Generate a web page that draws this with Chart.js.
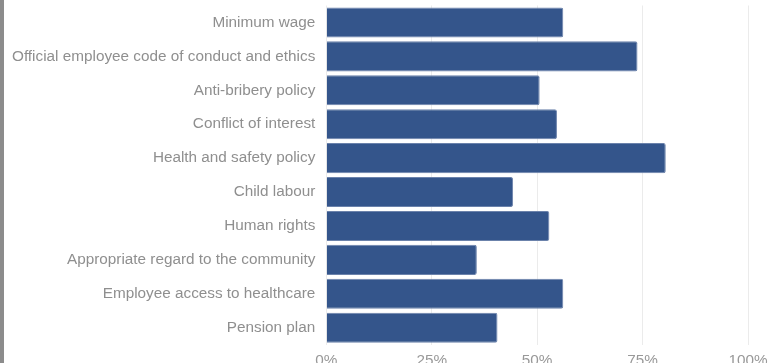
<!DOCTYPE html>
<html>
<head>
<meta charset="utf-8">
<script src="https://cdn.jsdelivr.net/npm/chart.js@4/dist/chart.umd.min.js"></script>
<style>
  html, body { margin: 0; padding: 0; background: #fff; overflow: hidden; }
  .frame { border-left: 4px solid #8c8c8c; width: 768px; height: 363px; overflow: hidden; }
  .chart-box { position: relative; width: 768px; height: 377px; }
</style>
</head>
<body>
<div class="frame">
  <div class="chart-box"><canvas id="policy-bar-chart"></canvas></div>
</div>
<script>
// Share of companies with each policy in place (%)
var policyNames = [
    'Minimum wage',
    'Official employee code of conduct and ethics',
    'Anti-bribery policy',
    'Conflict of interest',
    'Health and safety policy',
    'Child labour',
    'Human rights',
    'Appropriate regard to the community',
    'Employee access to healthcare',
    'Pension plan'
];
var policyShares = [56.2, 73.8, 50.6, 54.7, 80.5, 44.3, 52.9, 35.7, 56.2, 40.6];
var shareTicks = [0, 25, 50, 75, 100];

var labelFont = { family: 'Liberation Sans', size: 15.3 };

// keep the outer margins fixed: drop the extra room chart.js adds for edge labels
function noEdgePadding(axis) {
    axis.paddingLeft = 0;
    axis.paddingRight = 0;
    axis.paddingTop = 0;
    axis.paddingBottom = 0;
}

var ctx = document.getElementById('policy-bar-chart');

var chartData = {
    labels: policyNames,
    datasets: [{
        data: policyShares,
        backgroundColor: '#34558b',
        borderColor: '#6b82ab',
        borderWidth: 1,
        borderRadius: 2,
        borderSkipped: 'start',
        barPercentage: 0.985,
        categoryPercentage: 0.9
    }]
};

var chartOptions = {
    indexAxis: 'y',
    responsive: true,
    maintainAspectRatio: false,
    animation: false,
    layout: {
        padding: { left: -3, right: 24, top: 5.5, bottom: 0 }
    },
    plugins: {
        legend: { display: false },
        tooltip: { enabled: false }
    },
    scales: {
        x: {
            min: 0,
            max: 100,
            afterBuildTicks: function (axis) {
                axis.ticks = shareTicks.map(function (v) { return { value: v }; });
            },
            afterFit: noEdgePadding,
            grid: { color: '#ebebeb', drawTicks: false },
            border: { display: false },
            ticks: {
                padding: 7,
                color: '#999999',
                font: labelFont,
                callback: function (value) { return value + '%'; }
            }
        },
        y: {
            afterFit: noEdgePadding,
            grid: { display: false, drawTicks: false },
            border: { display: false },
            ticks: {
                padding: 11,
                color: '#8f8f8f',
                font: labelFont
            }
        }
    }
};

var policyChart = new Chart(ctx, {
    type: 'bar',
    data: chartData,
    options: chartOptions
});
</script>
</body>
</html>
